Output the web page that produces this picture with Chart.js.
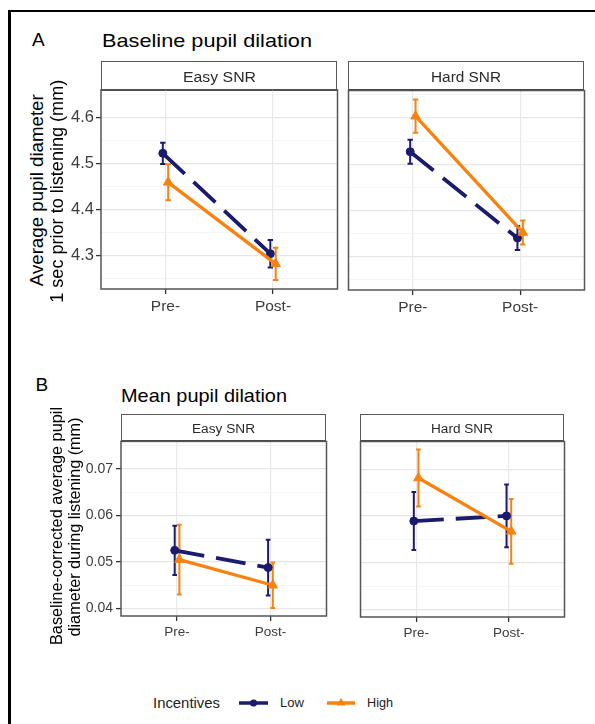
<!DOCTYPE html>
<html>
<head>
<meta charset="utf-8">
<script src="https://cdn.jsdelivr.net/npm/chart.js@4.4.1/dist/chart.umd.min.js"></script>
<style>
  html, body { margin: 0; padding: 0; background: #fff; }
  #page { position: relative; width: 595px; height: 724px; overflow: hidden; background: #fff;
          font-family: "Liberation Sans", Arial, Helvetica, sans-serif; }
  #frame { position: absolute; left: 8px; top: 10px; width: 600px; height: 720px;
           border-top: 2px solid #000; border-left: 3px solid #000; }
  canvas.c { position: absolute; }
  .strip { position: absolute; box-sizing: border-box; background: #fff;
           border: 1.5px solid #5a5a5a; border-bottom: 2px solid #444; }
  .t { position: absolute; white-space: nowrap; line-height: 1; }
</style>
</head>
<body>
<div id="page">
  <div id="frame"></div>
  <canvas id="cAe" class="c"></canvas>
  <canvas id="cAh" class="c"></canvas>
  <canvas id="cBe" class="c"></canvas>
  <canvas id="cBh" class="c"></canvas>
  <svg id="legendKeys" style="position:absolute;left:230px;top:693px" width="140" height="20"></svg>
</div>
<script>
// ---------------- DATA ----------------
const phases = ['Pre-', 'Post-'];
const conditions = ['Easy SNR', 'Hard SNR'];
const incentives = ['Low', 'High'];

// A: Baseline pupil dilation (mm), mean and error half-width, per phase
const baseEasyLow      = [4.522, 4.304];
const baseEasyLowErr   = [0.023, 0.030];
const baseEasyHigh     = [4.459, 4.282];
const baseEasyHighErr  = [0.039, 0.035];
const baseHardLow      = [4.527, 4.340];
const baseHardLowErr   = [0.026, 0.026];
const baseHardHigh     = [4.604, 4.352];
const baseHardHighErr  = [0.036, 0.026];
const baseTicks = [4.3, 4.4, 4.5, 4.6];

// B: Mean pupil dilation (baseline-corrected, mm)
const meanEasyLow      = [0.0525, 0.0488];
const meanEasyLowErr   = [0.0053, 0.0060];
const meanEasyHigh     = [0.0505, 0.0450];
const meanEasyHighErr  = [0.0075, 0.0049];
const meanHardLow      = [0.0589, 0.0600];
const meanHardLowErr   = [0.0062, 0.0067];
const meanHardHigh     = [0.0681, 0.0567];
const meanHardHighErr  = [0.0061, 0.0069];
const meanTicks = [0.04, 0.05, 0.06, 0.07];

// ---------------- STYLE ----------------
const NAVY = '#1b1b6e';
const ORANGE = '#f7820f';
const DODGE = 0.025;
const CAP = 0.025;
Chart.defaults.font.family = '"Liberation Sans", Arial, Helvetica, sans-serif';
Chart.defaults.animation = false;

function yRange(pairs) {
  let lo = Infinity, hi = -Infinity;
  pairs.forEach(([vals, errs]) => vals.forEach((v, i) => {
    lo = Math.min(lo, v - errs[i]); hi = Math.max(hi, v + errs[i]);
  }));
  const pad = (hi - lo) * 0.05;
  return [lo - pad, hi + pad];
}

function yTickList(majors, lo, hi) {
  const step = majors[1] - majors[0];
  const list = majors.map(v => ({ value: v, isMajor: true }));
  const mids = [majors[0] - step / 2].concat(majors.map(v => v + step / 2));
  mids.forEach(v => { if (v >= lo && v <= hi) list.push({ value: v, isMajor: false }); });
  return list.sort((a, b) => a.value - b.value);
}

const errorBars = {
  id: 'errorBars',
  beforeDatasetsDraw(chart) {
    const { ctx, scales: { x, y } } = chart;
    chart.data.datasets.slice().reverse().forEach(ds => {
      if (!ds.errors) return;
      ctx.save();
      ctx.strokeStyle = ds.borderColor;
      ctx.lineWidth = 2;
      ds.data.forEach((p, j) => {
        const px = x.getPixelForValue(p.x);
        const x0 = x.getPixelForValue(p.x - CAP), x1 = x.getPixelForValue(p.x + CAP);
        const yl = y.getPixelForValue(p.y - ds.errors[j]);
        const yh = y.getPixelForValue(p.y + ds.errors[j]);
        ctx.beginPath();
        ctx.moveTo(px, yl); ctx.lineTo(px, yh);
        ctx.moveTo(x0, yl); ctx.lineTo(x1, yl);
        ctx.moveTo(x0, yh); ctx.lineTo(x1, yh);
        ctx.stroke();
      });
      ctx.restore();
    });
  }
};

const panelBorder = {
  id: 'panelBorder',
  afterDraw(chart) {
    const { ctx, chartArea: a } = chart;
    ctx.save();
    ctx.strokeStyle = '#555';
    ctx.lineWidth = 1.5;
    ctx.strokeRect(a.left, a.top, a.right - a.left, a.bottom - a.top);
    ctx.restore();
  }
};

function pts(vals, off) {
  return vals.map((v, i) => ({ x: i + 1 + off, y: v }));
}

function makeConfig(p) {
  const ticks = yTickList(p.majors, p.range[0], p.range[1]);
  return {
    type: 'line',
    data: {
      datasets: [
        { label: incentives[1], data: pts(p.high, DODGE), errors: p.highErr, order: 0,
          borderColor: ORANGE, backgroundColor: ORANGE, borderWidth: 3.3,
          pointStyle: 'triangle', pointRadius: 5.5, pointBackgroundColor: ORANGE,
          pointBorderColor: ORANGE, pointBorderWidth: 1, tension: 0 },
        { label: incentives[0], data: pts(p.low, -DODGE), errors: p.lowErr, order: 1,
          borderColor: NAVY, backgroundColor: NAVY, borderWidth: 3.8, borderDash: [30, 12],
          pointStyle: 'circle', pointRadius: 4, pointBackgroundColor: NAVY,
          pointBorderColor: NAVY, pointBorderWidth: 1, tension: 0 }
      ]
    },
    options: {
      responsive: false, maintainAspectRatio: false, animation: false,
      layout: { padding: { top: 4, right: 4, left: 4, bottom: 0 } },
      plugins: { legend: { display: false }, tooltip: { enabled: false } },
      scales: {
        x: {
          type: 'linear', min: 0.4, max: 2.6,
          afterBuildTicks: s => { s.ticks = phases.map((ph, i) => ({ value: i + 1 })); },
          afterFit: s => { s.height = 32; },
          ticks: { callback: v => phases[Math.round(v) - 1] || '', font: { size: p.xFont },
                   color: '#3d3d3d', padding: p.xPad, maxRotation: 0, autoSkip: false },
          grid: { color: '#e8e8e8', lineWidth: 1.2, tickColor: '#333', tickLength: 5, tickWidth: 1.3 },
          border: { display: false }
        },
        y: {
          type: 'linear', min: p.range[0], max: p.range[1],
          afterBuildTicks: s => { s.ticks = ticks.map(t => ({ ...t })); },
          afterFit: s => { s.width = p.showY ? p.yW : 0; },
          ticks: { display: p.showY, autoSkip: false, font: { size: p.yFont }, color: '#3d3d3d',
                   padding: p.yPad,
                   callback: (v, i, tk) => (tk[i] && tk[i].isMajor) ? v.toFixed(p.dec) : '' },
          grid: {
            color: c => (c.tick && c.tick.isMajor) ? '#e6e6e6' : '#f1f1f1',
            lineWidth: c => (c.tick && c.tick.isMajor) ? 1.2 : 0.8,
            drawTicks: p.showY, tickLength: 5, tickWidth: 1.3,
            tickColor: c => (c.tick && c.tick.isMajor) ? '#333' : 'rgba(0,0,0,0)'
          },
          border: { display: false }
        }
      }
    },
    plugins: [errorBars, panelBorder]
  };
}

function placeChart(id, p, box) {
  const canvas = document.getElementById(id);
  canvas.width = 400; canvas.height = 300;
  let ch = new Chart(canvas, makeConfig(p));
  const ca = ch.chartArea;
  const W = Math.round(ch.width - (ca.right - ca.left) + box.width);
  const H = Math.round(ch.height - (ca.bottom - ca.top) + box.height);
  ch.destroy();
  canvas.width = W; canvas.height = H;
  canvas.style.width = W + 'px'; canvas.style.height = H + 'px';
  ch = new Chart(canvas, makeConfig(p));
  canvas.style.left = (box.left - ch.chartArea.left) + 'px';
  canvas.style.top = (box.top - ch.chartArea.top) + 'px';
  return ch;
}

const rangeA = yRange([[baseEasyLow, baseEasyLowErr], [baseEasyHigh, baseEasyHighErr],
                       [baseHardLow, baseHardLowErr], [baseHardHigh, baseHardHighErr]]);
const rangeB = yRange([[meanEasyLow, meanEasyLowErr], [meanEasyHigh, meanEasyHighErr],
                       [meanHardLow, meanHardLowErr], [meanHardHigh, meanHardHighErr]]);

const styleA = { range: rangeA, majors: baseTicks, dec: 1, xFont: 15.5, yFont: 16.5, xPad: 3, yPad: 2, yW: 50 };
const styleB = { range: rangeB, majors: meanTicks, dec: 2, xFont: 13.5, yFont: 14, xPad: 3, yPad: 3, yW: 50 };

const boxes = {
  Ae: { left: 101, top: 90, width: 236, height: 199, strip: 61 },
  Ah: { left: 348, top: 90, width: 236, height: 199, strip: 61 },
  Be: { left: 121, top: 441, width: 205, height: 175, strip: 414 },
  Bh: { left: 360, top: 441, width: 204, height: 175, strip: 414 }
};

placeChart('cAe', { ...styleA, low: baseEasyLow, lowErr: baseEasyLowErr, high: baseEasyHigh, highErr: baseEasyHighErr, showY: true }, boxes.Ae);
placeChart('cAh', { ...styleA, low: baseHardLow, lowErr: baseHardLowErr, high: baseHardHigh, highErr: baseHardHighErr, showY: false }, boxes.Ah);
placeChart('cBe', { ...styleB, low: meanEasyLow, lowErr: meanEasyLowErr, high: meanEasyHigh, highErr: meanEasyHighErr, showY: true }, boxes.Be);
placeChart('cBh', { ...styleB, low: meanHardLow, lowErr: meanHardLowErr, high: meanHardHigh, highErr: meanHardHighErr, showY: false }, boxes.Bh);

// ---------------- TEXT & STRIPS ----------------
const page = document.getElementById('page');

function addStrip(box) {
  const d = document.createElement('div');
  d.className = 'strip';
  d.style.left = box.left + 'px';
  d.style.top = box.strip + 'px';
  d.style.width = box.width + 'px';
  d.style.height = (box.top - box.strip + 1) + 'px';
  page.insertBefore(d, page.firstChild.nextSibling);
}
Object.values(boxes).forEach(addStrip);

function addText(txt, o) {
  const s = document.createElement('span');
  s.className = 't';
  s.textContent = txt;
  s.style.fontSize = o.size + 'px';
  s.style.color = o.color || '#000';
  page.appendChild(s);
  const w0 = s.getBoundingClientRect().width;
  const k = o.width ? o.width / w0 : 1;
  if (o.rotate) {
    s.style.left = (o.cx - w0 / 2) + 'px';
    s.style.top = (o.cy - o.size / 2) + 'px';
    s.style.transformOrigin = '50% 50%';
    s.style.transform = 'rotate(-90deg) scaleX(' + k + ')';
  } else {
    const w = w0 * k;
    const left = o.align === 'center' ? o.x - w / 2 : o.x;
    s.style.left = left + 'px';
    s.style.top = (o.baseline - 0.8465 * o.size) + 'px';
    s.style.transformOrigin = '0 0';
    s.style.transform = 'scaleX(' + k + ')';
  }
}

addText('A', { x: 32, baseline: 46.5, size: 19 });
addText('Baseline pupil dilation', { x: 102, baseline: 47, size: 19, width: 210 });
addText('B', { x: 35.5, baseline: 391.5, size: 19 });
addText('Mean pupil dilation', { x: 121, baseline: 403, size: 18.5, width: 166 });

addText(conditions[0], { x: 219.5, baseline: 81.5, size: 14, width: 73, align: 'center', color: '#2a2a2a' });
addText(conditions[1], { x: 465.5, baseline: 81.5, size: 14, width: 70, align: 'center', color: '#2a2a2a' });
addText(conditions[0], { x: 223.5, baseline: 434, size: 12.5, width: 63, align: 'center', color: '#2a2a2a' });
addText(conditions[1], { x: 461.5, baseline: 434, size: 12.5, width: 62, align: 'center', color: '#2a2a2a' });

addText('Average pupil diameter', { rotate: true, cx: 37, cy: 190, size: 18.5, width: 192 });
addText('1 sec prior to listening (mm)', { rotate: true, cx: 57, cy: 191, size: 18.5, width: 223 });
addText('Baseline-corrected average pupil', { rotate: true, cx: 57, cy: 526, size: 16, width: 238 });
addText('diameter during listening (mm)', { rotate: true, cx: 75, cy: 527, size: 16, width: 219 });

addText('Incentives', { x: 153, baseline: 708, size: 14, width: 67, color: '#222' });
addText(incentives[0], { x: 280, baseline: 707.5, size: 13.5, width: 24, color: '#222' });
addText(incentives[1], { x: 367, baseline: 707.5, size: 13.5, width: 26, color: '#222' });

// legend keys
document.getElementById('legendKeys').innerHTML =
  '<line x1="9" y1="10" x2="38" y2="10" stroke="' + NAVY + '" stroke-width="3.5"/>' +
  '<circle cx="23.5" cy="10" r="3.6" fill="' + NAVY + '"/>' +
  '<line x1="97" y1="10" x2="125" y2="10" stroke="' + ORANGE + '" stroke-width="3.5"/>' +
  '<polygon points="111,5 115.5,12.5 106.5,12.5" fill="' + ORANGE + '"/>';
</script>
</body>
</html>
